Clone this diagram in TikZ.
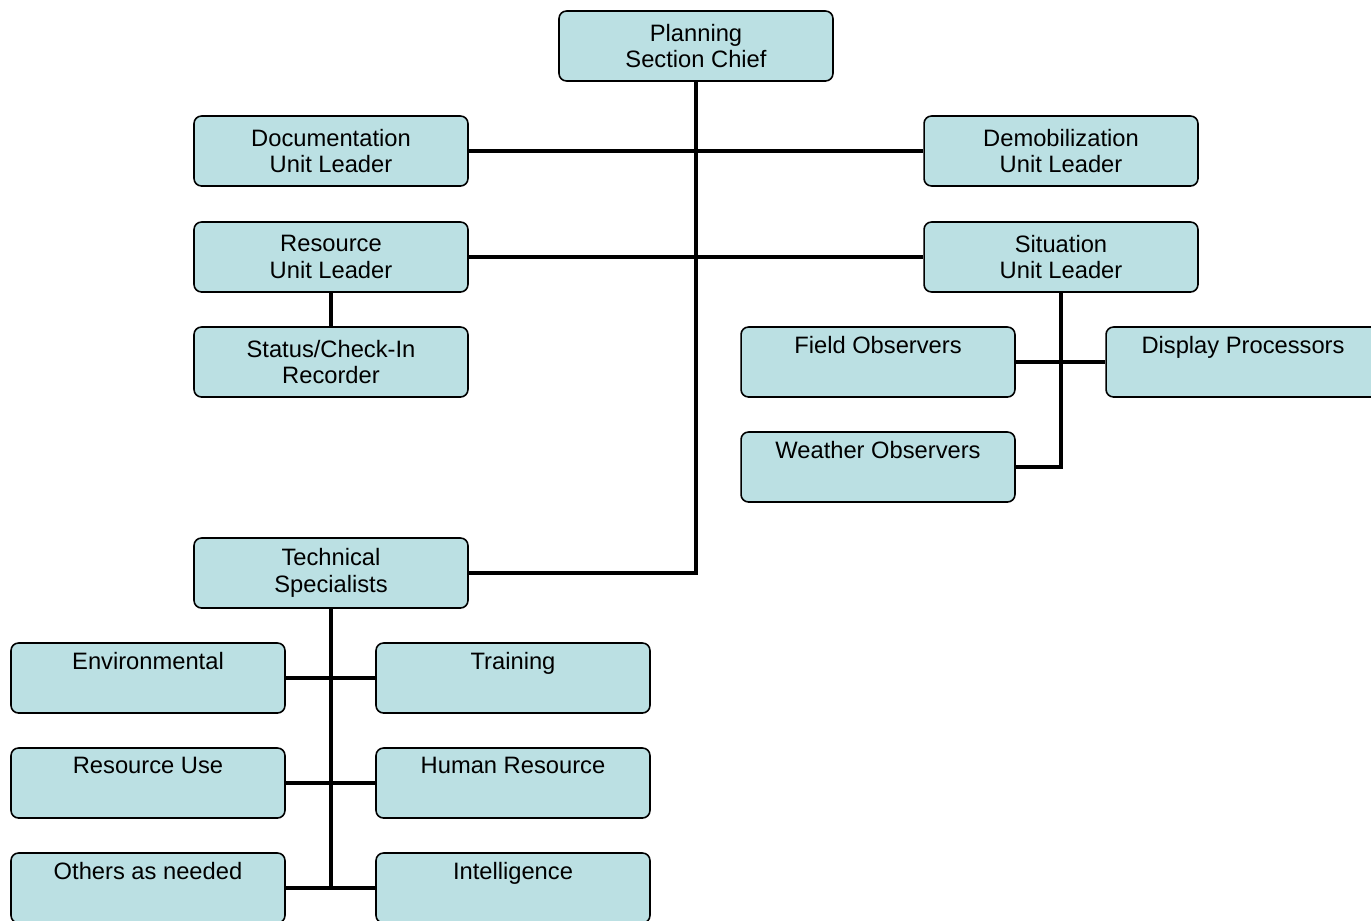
\documentclass[tikz,border=0pt]{standalone}
\usepackage{fontspec}
\setmainfont{Liberation Sans}
\usepackage{xcolor}
\usepackage{tikz}

\definecolor{unitfill}{HTML}{BBE0E3}

\tikzset{
    unitbox/.style={draw, line width=0.9pt, rounded corners=0.15cm, fill=unitfill,
        minimum width=5.48cm, minimum height=1.4cm, inner sep=0pt, align=center,
        font=\fontsize{13.5}{15.3}\selectfont},
    link/.style={line width=2.8pt}
}

\begin{document}
\begin{tikzpicture}[x=0.02cm, y=-0.02cm]
    \useasboundingbox (0,0) rectangle (1371,920);

    % section chief and units
    \node[unitbox] (chief) at (696,46) {Planning\\Section Chief};
    \node[unitbox] (doc) at (331,151) {Documentation\\Unit Leader};
    \node[unitbox] (demob) at (1061,151) {Demobilization\\Unit Leader};
    \node[unitbox] (res) at (331,257) {Resource\\Unit Leader};
    \node[unitbox] (sit) at (1061,257) {Situation\\Unit Leader};
    \node[unitbox] (status) at (331,362) {Status/Check-In\\Recorder};
    \node[unitbox] (field) at (878,362) {Field Observers\\\strut};
    \node[unitbox] (display) at (1243,362) {Display Processors\\\strut};
    \node[unitbox] (weather) at (878,467) {Weather Observers\\\strut};
    \node[unitbox] (tech) at (331,573) {Technical\\Specialists};

    % specialists
    \node[unitbox] (env) at (148,678) {Environmental\\\strut};
    \node[unitbox] (train) at (513,678) {Training\\\strut};
    \node[unitbox] (use) at (148,783) {Resource Use\\\strut};
    \node[unitbox] (human) at (513,783) {Human Resource\\\strut};
    \node[unitbox] (others) at (148,888) {Others as needed\\\strut};
    \node[unitbox] (intel) at (513,888) {Intelligence\\\strut};

    \draw[link] (chief) |- (tech);
    \draw[link] (doc) -- (demob);
    \draw[link] (res) -- (sit);
    \draw[link] (res) -- (status);
    \draw[link] (sit) |- (weather);
    \draw[link] (field) -- (display);
    \draw[link] (tech) -- (tech |- others);
    \draw[link] (env) -- (train);
    \draw[link] (use) -- (human);
    \draw[link] (others) -- (intel);
\end{tikzpicture}
\end{document}
